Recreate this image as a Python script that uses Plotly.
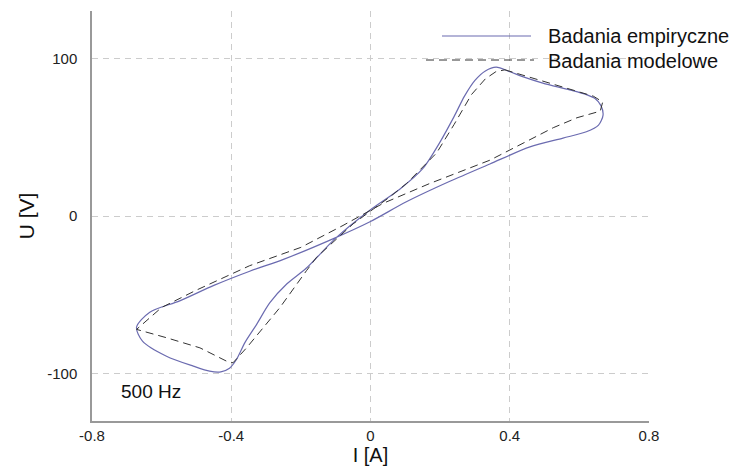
import plotly.graph_objects as go

# Empirical loop (solid): I [A], U [V]
I_emp = [0.361, 0.40, 0.437, 0.495, 0.572, 0.62, 0.645, 0.662, 0.668, 0.655, 0.62, 0.553, 0.458,
         0.343, 0.228, 0.103, 0.0, -0.108, -0.25, -0.347, -0.45, -0.548, -0.634, -0.672,
         -0.655, -0.586, -0.509, -0.462, -0.43, -0.405, -0.385, -0.36, -0.327, -0.289, -0.24, -0.184,
         -0.1, 0.0, 0.084, 0.15, 0.2, 0.24, 0.27, 0.3, 0.33, 0.361]
U_emp = [94.4, 91.5, 88.4, 84.3, 80.0, 77.0, 74.5, 70.0, 64.0, 57.6, 53.4, 49.4, 43.8,
         33.0, 22.0, 9.0, -3.5, -14.5, -27.5, -35.0, -44.0, -53.8, -61.0, -70.5,
         -79.3, -88.9, -95.2, -98.4, -98.8, -96.5, -91.0, -80.0, -68.7, -55.0, -43.0, -33.0,
         -14.0, 4.0, 17.0, 30.0, 47.0, 63.0, 76.0, 86.0, 92.0, 94.4]

# Model loop (dashed)
I_mod = [0.386, 0.48, 0.572, 0.64, 0.667, 0.66, 0.593, 0.525, 0.458, 0.343, 0.17, 0.036,
         -0.079, -0.2, -0.347, -0.5, -0.6, -0.672, -0.586, -0.49, -0.414, -0.395, -0.356,
         -0.308, -0.26, -0.184, -0.155, -0.05, 0.055, 0.103, 0.19, 0.24, 0.29, 0.33, 0.36, 0.386]
U_mod = [92.7, 86.5, 80.0, 76.0, 72.3, 66.5, 62.3, 56.0, 48.4, 35.4, 20.6, 8.0,
         -6.0, -19.9, -31.5, -47.0, -58.0, -71.9, -77.2, -83.6, -92.0, -93.1, -83.6,
         -70.8, -58.0, -34.7, -26.2, -5.0, 12.0, 20.5, 40.0, 58.0, 77.0, 87.0, 91.5, 92.7]

x_ticks = [-0.8, -0.4, 0, 0.4, 0.8]
x_ticklabels = ["-0.8", "-0.4", "0", "0.4", "0.8"]
y_ticks = [-100, 0, 100]
y_ticklabels = ["-100", "0", "100"]

legend_names = ["Badania empiryczne", "Badania modelowe"]

FONT = "Liberation Sans, Arial, sans-serif"
EMP_COLOR = "#6b6bb0"
MOD_COLOR = "#333333"

fig = go.Figure()
fig.add_trace(go.Scatter(x=I_emp, y=U_emp, mode="lines", name=legend_names[0],
                         line=dict(color=EMP_COLOR, width=1.2, shape="spline", smoothing=0.8),
                         showlegend=False))
fig.add_trace(go.Scatter(x=I_mod, y=U_mod, mode="lines", name=legend_names[1],
                         line=dict(color=MOD_COLOR, width=1, dash="8px,5px"), showlegend=False))

# manual legend
fig.add_shape(type="line", xref="paper", yref="paper",
              x0=(442 - 92) / 557, x1=(531 - 92) / 557, y0=(421 - 36) / 410, y1=(421 - 36) / 410,
              line=dict(color=EMP_COLOR, width=1.2))
fig.add_shape(type="line", xref="paper", yref="paper",
              x0=(426 - 92) / 557, x1=(534 - 92) / 557, y0=(421 - 60) / 410, y1=(421 - 60) / 410,
              line=dict(color=MOD_COLOR, width=1, dash="8px,5px"))
fig.add_annotation(xref="paper", yref="paper", x=(546 - 92) / 557, y=(421 - 36) / 410,
                   text=legend_names[0], showarrow=False, xanchor="left", yanchor="middle",
                   font=dict(family=FONT, size=20, color="#111111"))
fig.add_annotation(xref="paper", yref="paper", x=(546 - 92) / 557, y=(421 - 61) / 410,
                   text=legend_names[1], showarrow=False, xanchor="left", yanchor="middle",
                   font=dict(family=FONT, size=20, color="#111111"))
fig.add_annotation(xref="paper", yref="paper", x=(119 - 92) / 557, y=(421 - 391) / 410,
                   text="500 Hz", showarrow=False, xanchor="left", yanchor="middle",
                   font=dict(family=FONT, size=19, color="#111111"))

fig.update_layout(
    width=739, height=466,
    margin=dict(l=92, r=90, t=11, b=45, pad=0),
    paper_bgcolor="white", plot_bgcolor="white",
    font=dict(family=FONT, size=15, color="#222222"),
    showlegend=False,
)
fig.update_xaxes(range=[-0.8, 0.8], tickvals=x_ticks, ticktext=x_ticklabels,
                 showgrid=True, gridcolor="#cccccc", griddash="6px,5px", gridwidth=1,
                 showline=True, linecolor="#999999", linewidth=1.5, zeroline=False,
                 ticks="", ticklabelstandoff=0, automargin=False,
                 title=dict(text="I [A]", font=dict(family=FONT, size=20, color="#111111"), standoff=5))
fig.update_yaxes(range=[-130, 130], tickvals=y_ticks, ticktext=y_ticklabels,
                 showgrid=True, gridcolor="#cccccc", griddash="6px,5px", gridwidth=1,
                 showline=True, linecolor="#999999", linewidth=1.5, zeroline=False,
                 ticks="", ticklabelstandoff=10, automargin=False,
                 title=dict(text="U [V]", font=dict(family=FONT, size=21, color="#111111"), standoff=7))

fig.write_html("out.html")
